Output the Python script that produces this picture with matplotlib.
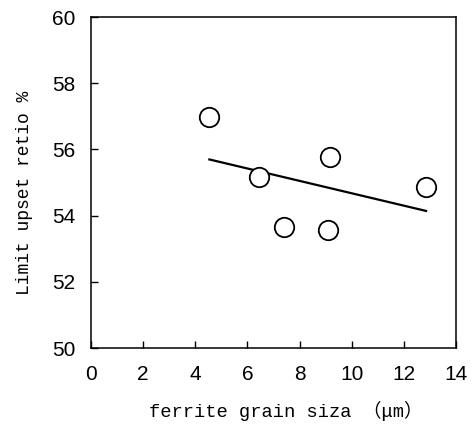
import numpy as np
import matplotlib
matplotlib.use("Agg")
import matplotlib.pyplot as plt

# grain size (um) vs limit upset ratio (%)
grain_size = [4.54, 6.44, 7.40, 9.09, 9.18, 12.85]
upset_ratio = [56.97, 55.18, 53.66, 53.56, 55.78, 54.87]

x_ticks = [0, 2, 4, 6, 8, 10, 12, 14]
y_ticks = [50, 52, 54, 56, 58, 60]

num_font = ['Liberation Sans', 'DejaVu Sans']
lab_font = ['Liberation Mono', 'Noto Sans CJK JP']

fig = plt.figure(figsize=(4.75, 4.26), dpi=100)
ax = fig.add_axes([0.1916, 0.183, 0.7684, 0.777])

# least squares line over the data range
k, b = np.polyfit(grain_size, upset_ratio, 1)
xs = np.array([min(grain_size), max(grain_size)])
ax.plot(xs, k * xs + b, 'k-', lw=1.6, zorder=2)

ax.plot(grain_size, upset_ratio, 'o', ms=14, mfc='white', mec='black',
        mew=1.3, zorder=3)

ax.set_xlim(0, 14)
ax.set_ylim(50, 60)
ax.set_xticks(x_ticks)
ax.set_yticks(y_ticks)
ax.tick_params(direction='in', length=5, width=1, top=False, right=False)
ax.tick_params(axis='x', pad=12)
ax.tick_params(axis='y', pad=11)
for lbl in ax.get_xticklabels() + ax.get_yticklabels():
    lbl.set_family(num_font)
    lbl.set_fontsize(15)
for s in ax.spines.values():
    s.set_linewidth(1.1)

ax.set_xlabel('ferrite grain siza （μm）', family=lab_font, fontsize=13.5)
ax.xaxis.set_label_coords(0.534, -0.16)
ax.set_ylabel('Limit upset retio %', family=lab_font, fontsize=13)
ax.yaxis.set_label_coords(-0.16, 0.47)

fig.savefig('out.png', dpi=100)
